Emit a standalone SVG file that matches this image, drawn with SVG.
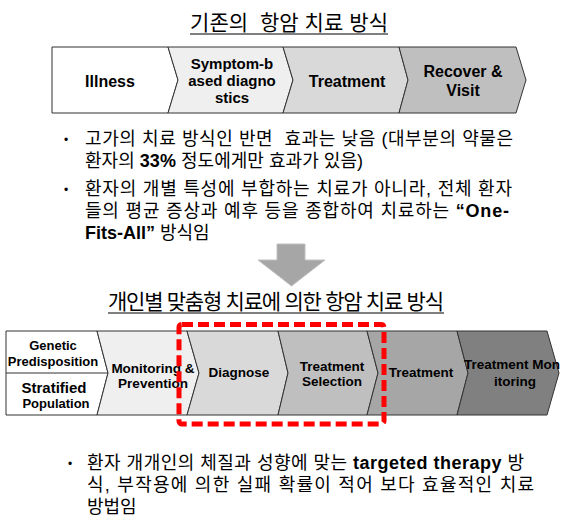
<svg xmlns="http://www.w3.org/2000/svg" width="563" height="528" viewBox="0 0 563 528">
<style>
.t{font-family:"Liberation Sans","Noto Sans CJK KR",sans-serif;fill:#000}
.title{font-size:21px;text-anchor:middle}
.lbl{font-weight:bold;text-anchor:middle}
.body{font-size:18px}
.b{font-weight:bold}
.seg{stroke:#333;stroke-width:1}
.ul{stroke:#000;stroke-width:1.2}
</style>
<rect width="563" height="528" fill="#fff"/>

<g id="title1">
<text class="t title" x="289" y="30" xml:space="preserve" textLength="198" lengthAdjust="spacing">기존의  항암 치료 방식</text>
<line class="ul" x1="190" y1="34" x2="388" y2="34"/>
</g>

<g id="top-bar">
<g id="illness">
<path class="seg" d="M52,47 H168 L178,80 L168,113 H52 Z" fill="#fff"/>
<text class="t lbl" x="110" y="86.5" font-size="16">Illness</text>
</g>
<g id="symptom">
<path class="seg" d="M168,47 H283 L293,80 L283,113 H168 L178,80 Z" fill="#efefef"/>
<text class="t lbl" x="232" y="68.5" font-size="15">Symptom-b</text>
<text class="t lbl" x="232" y="85.5" font-size="15">ased diagno</text>
<text class="t lbl" x="232" y="102.5" font-size="15">stics</text>
</g>
<g id="treatment1">
<path class="seg" d="M283,47 H399 L408,80 L399,113 H283 L293,80 Z" fill="#d9d9d9"/>
<text class="t lbl" x="347" y="86.5" font-size="16">Treatment</text>
</g>
<g id="recover">
<path class="seg" d="M399,47 H516 L526,80 L516,113 H399 L408,80 Z" fill="#bfbfbf"/>
<text class="t lbl" x="463" y="77" font-size="16">Recover &amp;</text>
<text class="t lbl" x="463" y="96" font-size="16">Visit</text>
</g>
</g>

<g id="bullets1">
<text class="t" x="64" y="144" font-size="12">•</text>
<text class="t body" x="85" y="144.5" xml:space="preserve" textLength="428" lengthAdjust="spacing">고가의 치료 방식인 반면  효과는 낮음 (대부분의 약물은</text>
<text class="t body" x="85" y="166.5" textLength="278" lengthAdjust="spacing">환자의 <tspan class="b">33%</tspan> 정도에게만 효과가 있음)</text>
<text class="t" x="64" y="194" font-size="12">•</text>
<text class="t body" x="85" y="194.5" textLength="427" lengthAdjust="spacing">환자의 개별 특성에 부합하는 치료가 아니라, 전체 환자</text>
<text class="t body" x="85" y="216.5" textLength="424" lengthAdjust="spacing">들의 평균 증상과 예후 등을 종합하여 치료하는 <tspan class="b">“One-</tspan></text>
<text class="t body" x="85" y="238.5"><tspan class="b">Fits-All”</tspan> 방식임</text>
</g>

<g id="down-arrow">
<path d="M277,244 H305 V260 H325 L291.5,286 L258,260 H277 Z" fill="#a6a6a6" stroke="#c0c0c0" stroke-width="1"/>
</g>

<g id="title2">
<text class="t title" x="276" y="309" textLength="336" lengthAdjust="spacing">개인별 맞춤형 치료에 의한 항암 치료 방식</text>
<line class="ul" x1="108" y1="313" x2="444" y2="313"/>
</g>

<g id="bottom-bar">
<g id="genetic-stratified">
<path class="seg" d="M6,331 H97 L108,373 L97,415 H6 Z" fill="#fff"/>
<line class="seg" x1="6" y1="373" x2="108" y2="373"/>
<text class="t lbl" x="53" y="350" font-size="13">Genetic</text>
<text class="t lbl" x="53" y="366" font-size="13">Predisposition</text>
<text class="t lbl" x="54" y="392.5" font-size="15">Stratified</text>
<text class="t lbl" x="56" y="408" font-size="13">Population</text>
</g>
<g id="monitoring">
<path class="seg" d="M97,331 H187 L199,373 L187,415 H97 L108,373 Z" fill="#efefef"/>
<text class="t lbl" x="153" y="373" font-size="13.5">Monitoring &amp;</text>
<text class="t lbl" x="153" y="388" font-size="13.5">Prevention</text>
</g>
<g id="diagnose">
<path class="seg" d="M187,331 H278 L288,373 L278,415 H187 L199,373 Z" fill="#d9d9d9"/>
<text class="t lbl" x="239" y="377" font-size="13.5">Diagnose</text>
</g>
<g id="treatment-selection">
<path class="seg" d="M278,331 H367 L378,373 L367,415 H278 L288,373 Z" fill="#bfbfbf"/>
<text class="t lbl" x="332" y="371" font-size="13.5">Treatment</text>
<text class="t lbl" x="332" y="386" font-size="13.5">Selection</text>
</g>
<g id="treatment2">
<path class="seg" d="M367,331 H457 L468,373 L457,415 H367 L378,373 Z" fill="#a6a6a6"/>
<text class="t lbl" x="421" y="377" font-size="13.5">Treatment</text>
</g>
<g id="treatment-monitoring">
<path class="seg" d="M457,331 H547 L559,373 L547,415 H457 L468,373 Z" fill="#808080"/>
<text class="t lbl" x="512" y="369" font-size="13.5">Treatment Mon</text>
<text class="t lbl" x="515" y="386" font-size="13.5">itoring</text>
</g>
</g>

<g id="highlight">
<rect x="179" y="324.5" width="205" height="99.5" rx="3" fill="none" stroke="#ff0000" stroke-width="5" stroke-dasharray="11 5"/>
</g>

<g id="bullets2">
<text class="t" x="68" y="468" font-size="12">•</text>
<text class="t body" x="87" y="468.5" textLength="437" lengthAdjust="spacing">환자 개개인의 체질과 성향에 맞는 <tspan class="b">targeted therapy</tspan> 방</text>
<text class="t body" x="87" y="490.5" textLength="447" lengthAdjust="spacing">식, 부작용에 의한 실패 확률이 적어 보다 효율적인 치료</text>
<text class="t body" x="87" y="512.5">방법임</text>
</g>
</svg>
